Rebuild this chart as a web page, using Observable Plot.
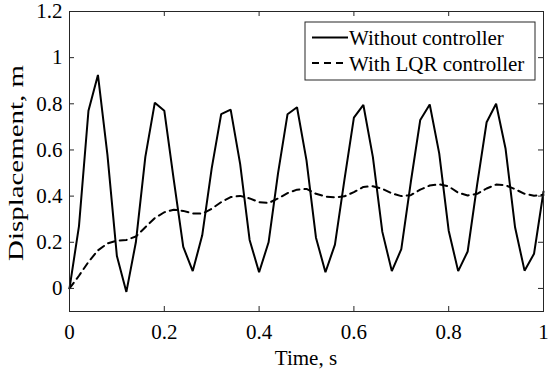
<!DOCTYPE html>
<html>
<head>
<meta charset="utf-8">
<script src="https://cdn.jsdelivr.net/npm/d3@7"></script>
<script src="https://cdn.jsdelivr.net/npm/@observablehq/plot@0.6"></script>
<style>
  html, body { margin: 0; padding: 0; background: #fff; }
  #chart svg { display: block; }
</style>
</head>
<body>
<div id="chart"></div>
<script>
const time = [0.00,0.02,0.04,0.06,0.08,0.10,0.12,0.14,0.16,0.18,0.20,0.22,0.24,0.26,0.28,0.30,0.32,0.34,0.36,0.38,0.40,0.42,0.44,0.46,0.48,0.50,0.52,0.54,0.56,0.58,0.60,0.62,0.64,0.66,0.68,0.70,0.72,0.74,0.76,0.78,0.80,0.82,0.84,0.86,0.88,0.90,0.92,0.94,0.96,0.98,1.00];
const withoutController = [0.00,0.27,0.77,0.925,0.58,0.14,-0.015,0.20,0.57,0.805,0.77,0.47,0.18,0.075,0.23,0.52,0.755,0.775,0.54,0.21,0.07,0.20,0.50,0.755,0.785,0.555,0.22,0.07,0.19,0.47,0.74,0.795,0.57,0.245,0.075,0.17,0.46,0.73,0.797,0.585,0.25,0.075,0.16,0.45,0.72,0.80,0.605,0.265,0.077,0.15,0.42];
const withLQR = [0.00,0.055,0.115,0.165,0.195,0.207,0.21,0.225,0.265,0.305,0.33,0.341,0.336,0.325,0.324,0.345,0.374,0.396,0.401,0.39,0.374,0.37,0.39,0.413,0.428,0.431,0.41,0.398,0.395,0.399,0.417,0.44,0.443,0.432,0.412,0.40,0.404,0.428,0.446,0.451,0.442,0.415,0.403,0.41,0.433,0.45,0.447,0.43,0.41,0.402,0.405];
const seriesNames = ["Without controller", "With LQR controller"];
const xTicks = [0, 0.2, 0.4, 0.6, 0.8, 1];
const yTicks = [0, 0.2, 0.4, 0.6, 0.8, 1, 1.2];
const xLabel = "Time, s";
const yLabel = "Displacement, m";

const W = 550, H = 375;
const mL = 69, mR = 7, mT = 11, mB = 64;
const fw = W - mL - mR, fh = H - mT - mB;
const tick = 5;
const axisColor = "#262626";
const font = "Liberation Serif, Times New Roman, serif";

const solidData = time.map((t, i) => ({t, v: withoutController[i]}));
const dashData = time.map((t, i) => ({t, v: withLQR[i]}));

const chart = Plot.plot({
  width: W, height: H,
  marginLeft: mL, marginRight: mR, marginTop: mT, marginBottom: mB,
  style: {fontFamily: font, fontSize: "21px", color: "black", background: "white"},
  x: {domain: [0, 1]},
  y: {domain: [-0.1, 1.2]},
  marks: [
    Plot.line(solidData, {x: "t", y: "v", stroke: "black", strokeWidth: 2, strokeLinejoin: "miter"}),
    Plot.line(dashData, {x: "t", y: "v", stroke: "black", strokeWidth: 2, strokeDasharray: "7,5"}),
    Plot.tickX(xTicks, {x: d => d, stroke: axisColor, strokeWidth: 1, insetTop: fh - tick}),
    Plot.tickX(xTicks, {x: d => d, stroke: axisColor, strokeWidth: 1, insetBottom: fh - tick}),
    Plot.tickY(yTicks, {y: d => d, stroke: axisColor, strokeWidth: 1, insetRight: fw - tick}),
    Plot.tickY(yTicks, {y: d => d, stroke: axisColor, strokeWidth: 1, insetLeft: fw - tick}),
    Plot.frame({stroke: axisColor, strokeWidth: 1}),
    Plot.axisX({ticks: xTicks, tickSize: 0, tickPadding: 13, tickFormat: d => String(d), label: null, fontSize: 21, fontFamily: font}),
    Plot.axisY({ticks: yTicks, tickSize: 0, tickPadding: 7, tickFormat: d => String(d), label: null, fontSize: 21, fontFamily: font})
  ]
});

document.getElementById("chart").appendChild(chart);

const svg = d3.select(chart);

// axis labels
svg.append("text")
  .attr("x", mL + fw / 2).attr("y", 365)
  .attr("text-anchor", "middle")
  .style("font-family", font).style("font-size", "21px").attr("fill", "black")
  .text(xLabel);

svg.append("text")
  .attr("transform", `translate(23,${mT + fh / 2 + 2}) rotate(-90)`)
  .attr("text-anchor", "middle")
  .style("font-family", font).style("font-size", "21px").attr("fill", "black")
  .attr("textLength", 196).attr("lengthAdjust", "spacingAndGlyphs")
  .text(yLabel);

// legend
const lg = svg.append("g");
lg.append("rect")
  .attr("x", 305).attr("y", 22).attr("width", 230).attr("height", 58)
  .attr("fill", "white").attr("stroke", axisColor).attr("stroke-width", 1);
const rows = [{y: 37.5, dash: null}, {y: 63, dash: "7,5"}];
rows.forEach((r, i) => {
  lg.append("line")
    .attr("x1", 312).attr("x2", 348).attr("y1", r.y).attr("y2", r.y)
    .attr("stroke", "black").attr("stroke-width", 2)
    .attr("stroke-dasharray", r.dash);
  lg.append("text")
    .attr("x", 349).attr("y", r.y + 7.5)
    .attr("text-anchor", "start")
    .style("font-family", font).style("font-size", "21px").attr("fill", "black")
    .text(seriesNames[i]);
});
</script>
</body>
</html>
